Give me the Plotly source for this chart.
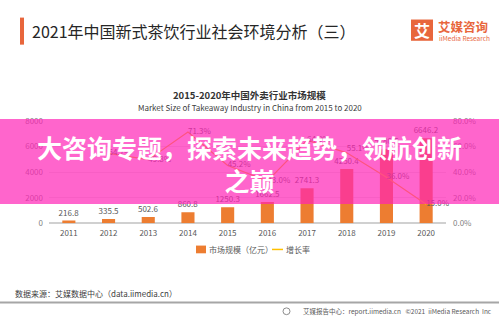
import plotly.graph_objects as go

years = ["2011", "2012", "2013", "2014", "2015", "2016", "2017", "2018", "2019", "2020"]
market_size = [216.8, 335.5, 502.6, 860.8, 1250.3, 1662.5, 2741.3, 4250.4, 5780.5, 6646.2]
growth_years = ["2012", "2013", "2014", "2015", "2016", "2017", "2018", "2019", "2020"]
growth_rate = [54.7, 49.8, 71.3, 45.2, 33.0, 64.9, 55.1, 36.0, 15.0]
left_ticks = [0, 2000, 4000, 6000, 8000]
right_ticks = [0, 20, 40, 60, 80]
right_tick_text = ["0.0%", "20.0%", "40.0%", "60.0%", "80.0%"]

W, H = 499, 324
FONT = "Noto Sans CJK SC"


def px(x):
    return x / W


def py(y):
    return 1 - y / H


fig = go.Figure()
fig.add_trace(go.Bar(
    x=years, y=market_size, width=0.33,
    marker=dict(color="#ED7D31", line=dict(width=0)),
    text=[f"{v:.1f}" for v in market_size], textposition="outside",
    constraintext="none",
    textfont=dict(size=8, color="#595959", family=FONT),
    cliponaxis=False, showlegend=False, name="市场规模（亿元）",
))
fig.add_trace(go.Scatter(
    x=growth_years, y=growth_rate, yaxis="y2", mode="lines+text",
    line=dict(color="#FFC000", width=1.2),
    text=[f"{v:.1f}%" for v in growth_rate],
    textposition=["middle right"] * 6 + ["top right", "middle right", "middle right"],
    textfont=dict(size=8, color="#595959", family=FONT),
    cliponaxis=False, showlegend=False, name="增长率",
))

fig.update_layout(
    width=W, height=H, margin=dict(l=0, r=0, t=0, b=0),
    paper_bgcolor="white", plot_bgcolor="white",
    font=dict(family=FONT, size=8, color="#595959"),
    bargap=0.67,
    xaxis=dict(domain=[px(49), px(446)], type="category", showgrid=False,
               showline=False, ticks="", ticklabelstandoff=4,
               tickfont=dict(size=8, color="#595959")),
    yaxis=dict(domain=[py(225), py(119)], range=[0, 8000], tickvals=left_ticks,
               showgrid=True, gridcolor="#E8E8E8", gridwidth=1,
               zeroline=True, zerolinecolor="#D0D0D0", zerolinewidth=1.5,
               showline=False, ticks="", ticklabelstandoff=5,
               tickfont=dict(size=8, color="#7F7F7F")),
    yaxis2=dict(overlaying="y", side="right", range=[0, 80], tickvals=right_ticks,
                ticktext=right_tick_text, showgrid=False, zeroline=False,
                showline=False, ticks="", ticklabelstandoff=6,
                tickfont=dict(size=8, color="#7F7F7F")),
)

shapes = [
    # title accent bar
    dict(type="rect", xref="paper", yref="paper", x0=px(20), x1=px(24), y0=py(40), y1=py(12),
         fillcolor="#E8663C", line=dict(width=0)),
    # logo square
    dict(type="rect", xref="paper", yref="paper", x0=px(411), x1=px(433), y0=py(36), y1=py(14),
         fillcolor="#E8663C", line=dict(width=0)),
    # legend symbols
    dict(type="rect", xref="paper", yref="paper", x0=px(196), x1=px(206), y0=py(256), y1=py(248),
         fillcolor="#ED7D31", line=dict(width=0)),
    dict(type="line", xref="paper", yref="paper", x0=px(272), x1=px(283), y0=py(252), y1=py(252),
         line=dict(color="#FFC000", width=1.5)),
    # footer rule
    dict(type="line", xref="paper", yref="paper", x0=0, x1=1, y0=py(307), y1=py(307),
         line=dict(color="#A6A6A6", width=2)),
    # footer icon
    dict(type="circle", xref="paper", yref="paper", x0=px(283), x1=px(290), y0=py(319.5), y1=py(312.5),
         line=dict(color="#8C8C8C", width=1)),
    # pink banner
    dict(type="rect", xref="paper", yref="paper", x0=0, x1=1, y0=py(205), y1=py(117),
         fillcolor="rgba(255,36,182,0.7)", line=dict(width=0), layer="above"),
]

ann = [
    dict(text="2021年中国新式茶饮行业社会环境分析（三）", x=px(30), y=py(26), xanchor="left",
         font=dict(size=16, color="#262626")),
    dict(text="<b>艾</b>", x=px(422), y=py(25), xanchor="center",
         font=dict(size=16, color="white")),
    dict(text="<b>艾媒咨询</b>", x=px(436), y=py(21), xanchor="left",
         font=dict(size=12.5, color="#E8663C")),
    dict(text="iiMedia Research", x=px(437), y=py(33), xanchor="left",
         font=dict(size=6.5, color="#E8663C")),
    dict(text="<b>2015-2020年中国外卖行业市场规模</b>", x=0.5, y=py(92), xanchor="center",
         font=dict(size=9.5, color="#333333")),
    dict(text="Market Size of Takeaway Industry in China from 2015 to 2020", x=0.5, y=py(105),
         xanchor="center", font=dict(size=8, color="#404040")),
    dict(text="市场规模（亿元）", x=px(207), y=py(252), xanchor="left",
         font=dict(size=8, color="#595959")),
    dict(text="增长率", x=px(284), y=py(252), xanchor="left",
         font=dict(size=8, color="#595959")),
    dict(text="数据来源：艾媒数据中心（data.iimedia.cn）", x=px(13), y=py(298), xanchor="left",
         font=dict(size=8, color="#404040")),
    dict(text="艾媒报告中心：report.iimedia.cn   ©2021  iiMedia Research  Inc", x=px(494), y=py(316),
         xanchor="right", font=dict(size=6.5, color="#595959")),
    dict(text="<b>大咨询专题，探索未来趋势，领航创新<br>之巅</b>", x=0.5, y=py(163),
         xanchor="center", yanchor="middle", align="center",
         font=dict(size=25, color="white")),
]
for a in ann:
    a.update(xref="paper", yref="paper", showarrow=False)
    a.setdefault("yanchor", "middle")

fig.update_layout(shapes=shapes, annotations=ann)
fig.write_html("out.html")
